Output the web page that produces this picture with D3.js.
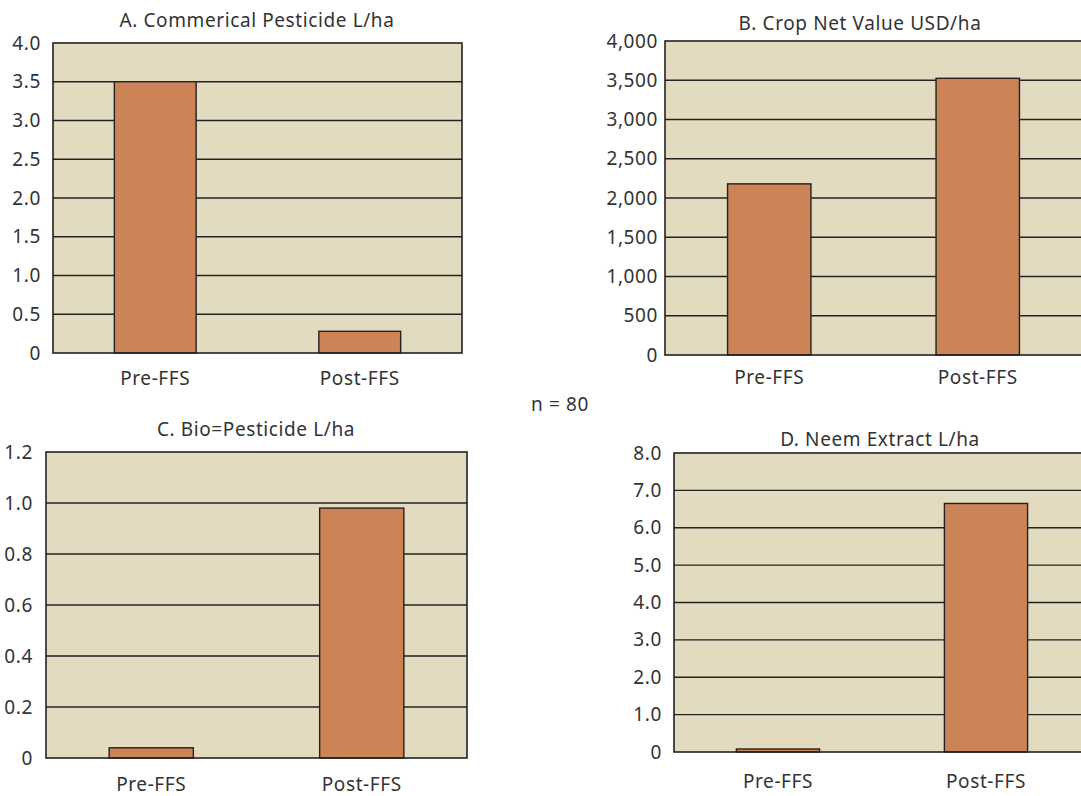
<!DOCTYPE html>
<html lang="en">
<head>
  <meta charset="UTF-8">
  <script src="https://d3js.org/d3.v7.min.js"></script>
  <title>FFS results</title>
  <style>
    body { margin: 0; background: #fff; }
    svg text { font-family: "Noto Sans", "Open Sans", sans-serif; fill: #333; letter-spacing: 0.6px; }
  </style>
</head>
<body>
<script>
  // data
  var categories = ["Pre-FFS", "Post-FFS"];
  var pesticide = [3.5, 0.28];
  var netValue = [2180, 3525];
  var bioPesticide = [0.04, 0.98];
  var neemExtract = [0.08, 6.65];

  var ticksA = [0, 0.5, 1.0, 1.5, 2.0, 2.5, 3.0, 3.5, 4.0];
  var ticksB = [0, 500, 1000, 1500, 2000, 2500, 3000, 3500, 4000];
  var ticksC = [0, 0.2, 0.4, 0.6, 0.8, 1.0, 1.2];
  var ticksD = [0, 1, 2, 3, 4, 5, 6, 7, 8];

  var W = 1081, H = 796;
  var svg = d3.select("body").append("svg")
    .attr("width", W)
    .attr("height", H);

  var fill = "#e3dbc0", barColor = "#cc8355", ink = "#222";
  var fs = "19px";

  function panel(opt) {
    var g = svg.append("g").attr("transform", "translate(" + opt.x + "," + opt.y + ")");
    var x = d3.scaleBand().domain(categories).range([0, opt.w]).paddingInner(0.6).paddingOuter(0.3);
    var y = d3.scaleLinear().domain([0, opt.max]).range([opt.h, 0]);

    g.append("rect")
      .attr("width", opt.w).attr("height", opt.h)
      .attr("fill", fill);

    // gridlines
    g.selectAll(".grid").data(opt.ticks.slice(1, -1)).enter().append("line")
      .attr("x1", 0).attr("x2", opt.w)
      .attr("y1", function (d) { return y(d); })
      .attr("y2", function (d) { return y(d); })
      .attr("stroke", ink).attr("stroke-width", 1.4);

    g.selectAll(".bar").data(opt.values).enter().append("rect")
      .attr("x", function (d, i) { return x(categories[i]); })
      .attr("y", function (d) { return y(d); })
      .attr("width", x.bandwidth())
      .attr("height", function (d) { return opt.h - y(d); })
      .attr("fill", barColor)
      .attr("stroke", ink).attr("stroke-width", 1.4);

    // frame
    g.append("rect")
      .attr("width", opt.w).attr("height", opt.h)
      .attr("fill", "none")
      .attr("stroke", ink).attr("stroke-width", 1.6);

    var yAxis = d3.axisLeft(y).tickValues(opt.ticks).tickSize(0).tickPadding(opt.pad)
      .tickFormat(function (d) { return d === 0 ? "0" : opt.fmt(d); });
    var ya = g.append("g").call(yAxis);
    ya.select(".domain").remove();
    ya.selectAll("text")
      .style("font-size", fs)
      .attr("fill", "#333");

    g.selectAll(".cat").data(categories).enter().append("text")
      .attr("x", function (d) { return x(d) + x.bandwidth() / 2; })
      .attr("y", opt.h + opt.catDy)
      .attr("text-anchor", "middle")
      .style("font-size", fs)
      .text(function (d) { return d; });

    g.append("text")
      .attr("x", opt.tx).attr("y", opt.ty)
      .attr("text-anchor", "middle")
      .style("font-size", fs)
      .text(opt.title);
  }

  panel({ x: 53, y: 43, w: 409, h: 310, max: 4, values: pesticide, ticks: ticksA,
    fmt: d3.format(".1f"), pad: 12, catDy: 32,
    title: "A. Commerical Pesticide L/ha", tx: 204, ty: -16 });

  panel({ x: 665, y: 41, w: 417, h: 314, max: 4000, values: netValue, ticks: ticksB,
    fmt: d3.format(","), pad: 7, catDy: 29,
    title: "B. Crop Net Value USD/ha", tx: 195, ty: -11 });

  panel({ x: 46, y: 452, w: 421, h: 306, max: 1.2, values: bioPesticide, ticks: ticksC,
    fmt: d3.format(".1f"), pad: 13, catDy: 33,
    title: "C. Bio=Pesticide L/ha", tx: 210, ty: -16 });

  panel({ x: 674, y: 453, w: 416, h: 299, max: 8, values: neemExtract, ticks: ticksD,
    fmt: d3.format(".1f"), pad: 12, catDy: 36,
    title: "D. Neem Extract L/ha", tx: 206, ty: -7 });

  svg.append("text")
    .attr("x", 560).attr("y", 411)
    .attr("text-anchor", "middle")
    .style("font-size", fs)
    .text("n = 80");
</script>
</body>
</html>
